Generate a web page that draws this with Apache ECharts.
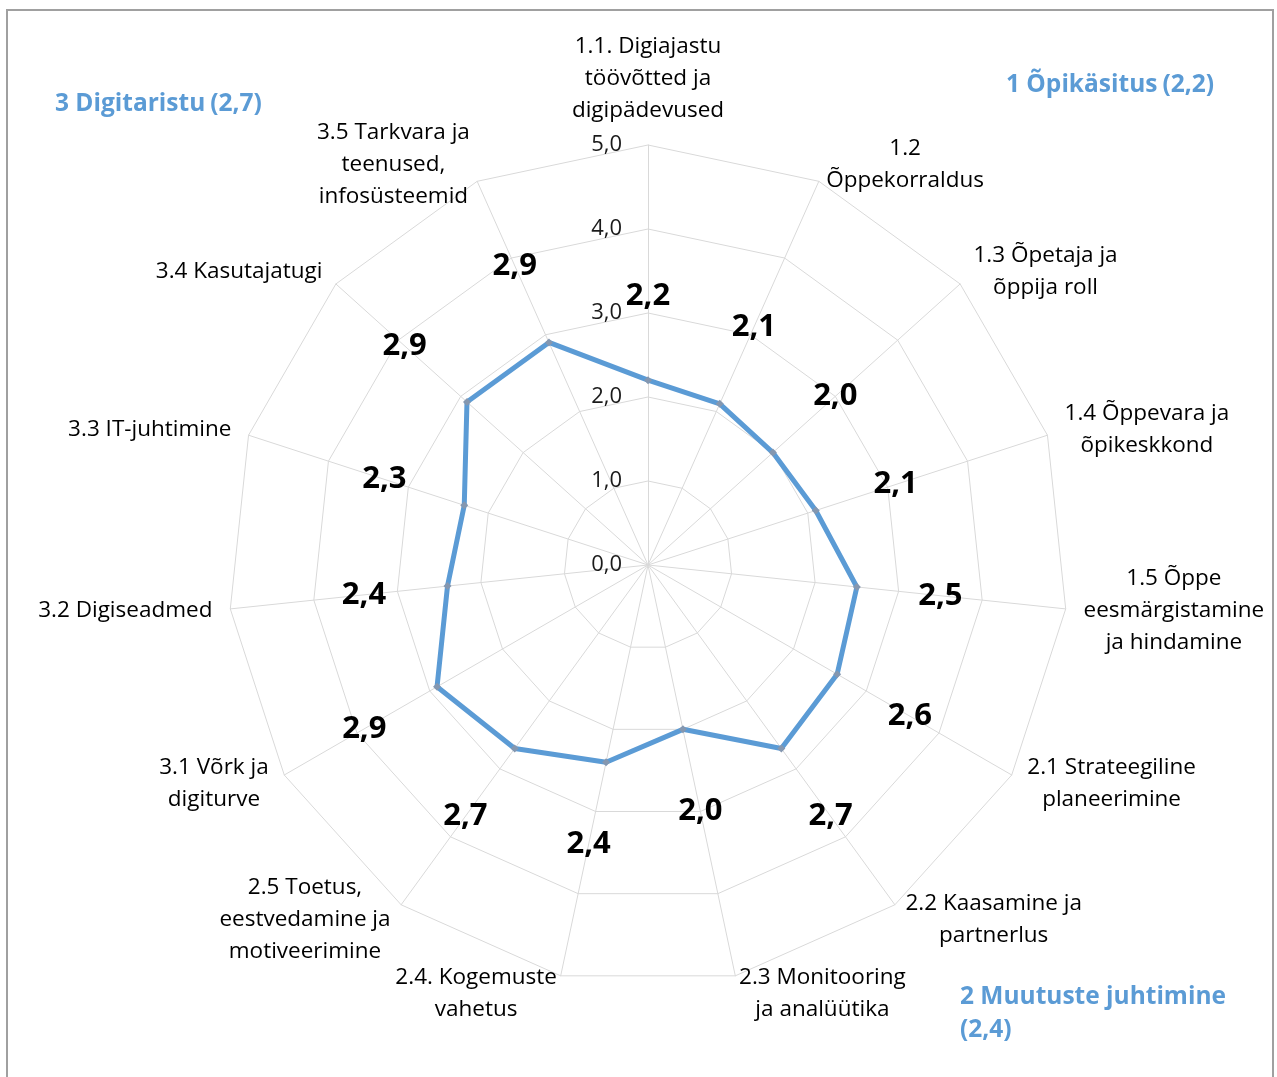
<!DOCTYPE html>
<html>
<head>
<meta charset="utf-8">
<title>Digipeegel</title>
<script src="https://cdn.jsdelivr.net/npm/echarts@6/dist/echarts.min.js"></script>
<style>
  html, body { margin: 0; padding: 0; background: #fff; }
  #chart { width: 1277px; height: 1077px; }
</style>
</head>
<body>
<div id="chart"></div>
<script>
// indicator names, clockwise from the top
const indicators = [
  '1.1. Digiajastu\ntöövõtted ja\ndigipädevused',
  '1.2\nÕppekorraldus',
  '1.3 Õpetaja ja\nõppija roll',
  '1.4 Õppevara ja\nõpikeskkond',
  '1.5 Õppe\neesmärgistamine\nja hindamine',
  '2.1 Strateegiline\nplaneerimine',
  '2.2 Kaasamine ja\npartnerlus',
  '2.3 Monitooring\nja analüütika',
  '2.4. Kogemuste\nvahetus',
  '2.5 Toetus,\neestvedamine ja\nmotiveerimine',
  '3.1 Võrk ja\ndigiturve',
  '3.2 Digiseadmed',
  '3.3 IT-juhtimine',
  '3.4 Kasutajatugi',
  '3.5 Tarkvara ja\nteenused,\ninfosüsteemid'
]
const scores = [2.2, 2.1, 2.0, 2.1, 2.5, 2.6, 2.7, 2.0, 2.4, 2.7, 2.9, 2.4, 2.3, 2.9, 2.9]
const groupNames = ['1 Õpikäsitus', '2 Muutuste juhtimine', '3 Digitaristu']
const groupScores = [2.2, 2.4, 2.7]
const scaleMax = 5
const scaleStep = 1

const FONT = 'Open Sans'
const BLUE = '#5b9bd5'
const CENTER = [648, 565]
const RADIUS = 420

const fmt = v => Number(v).toFixed(1).replace('.', ',')

// echarts radar runs counter-clockwise, so feed it the axes in reverse (first one stays on top)
const order = indicators.map((_, i) => (indicators.length - i) % indicators.length)

const titleRich = {
  b: { fontFamily: FONT, fontSize: 24.5, fontWeight: 'bold', color: BLUE, lineHeight: 33 },
  n: { fontFamily: FONT, fontSize: 24.5, color: BLUE, lineHeight: 33 }
}

const option = {
  animation: false,
  graphic: [{
    type: 'rect',
    silent: true,
    shape: { x: 7, y: 10, width: 1266, height: 1100 },
    style: { fill: 'none', stroke: '#a0a0a0', lineWidth: 2 }
  }],
  title: [
    {
      text: '{b|' + groupNames[2] + '} {n|(' + fmt(groupScores[2]) + ')}',
      left: 55, top: 88, padding: 0,
      textStyle: { rich: titleRich }
    },
    {
      text: '{b|' + groupNames[0] + '} {n|(' + fmt(groupScores[0]) + ')}',
      left: 1006, top: 69, padding: 0,
      textStyle: { rich: titleRich }
    },
    {
      text: '{b|' + groupNames[1] + '}\n{n|(' + fmt(groupScores[1]) + ')}',
      left: 960, top: 981, padding: 0,
      textStyle: { rich: titleRich }
    }
  ],
  radar: {
    center: CENTER,
    radius: RADIUS,
    startAngle: 90,
    splitNumber: scaleMax / scaleStep,
    shape: 'polygon',
    nameGap: 18,
    indicator: order.map(i => ({ name: indicators[i], min: 0, max: scaleMax })),
    axisName: {
      color: '#000',
      fontFamily: FONT,
      fontSize: 22.5,
      lineHeight: 32,
      formatter: name => name.split('\n').map(s => '{c|' + s + '}').join('\n'),
      rich: {
        c: { align: 'center', fontFamily: FONT, fontSize: 22.5, lineHeight: 32, color: '#000' }
      }
    },
    axisLine: { lineStyle: { color: '#d9d9d9', width: 1 } },
    splitLine: { lineStyle: { color: '#d9d9d9', width: 1 } },
    splitArea: { show: false },
    axisTick: { show: false },
    axisLabel: { show: false }
  },
  // only used to print the scale along the top axis
  polar: { center: CENTER, radius: RADIUS },
  angleAxis: { show: false, startAngle: 90, min: 0, max: 360 },
  radiusAxis: {
    min: 0,
    max: scaleMax,
    interval: scaleStep,
    axisLine: { show: false },
    axisTick: { show: false },
    splitLine: { show: false },
    axisLabel: { formatter: fmt, margin: 26, fontFamily: FONT, fontSize: 22, color: '#1a1a1a' }
  },
  series: [{
    type: 'radar',
    symbol: 'diamond',
    symbolSize: 8,
    itemStyle: { color: '#8497b0' },
    lineStyle: { color: BLUE, width: 5 },
    label: {
      show: true,
      formatter: p => fmt(p.value),
      fontFamily: FONT,
      fontSize: 31,
      fontWeight: 'bold',
      color: '#000'
    },
    // push each value label one scale step outwards along its axis
    labelLayout: p => {
      const cx = p.rect.x + p.rect.width / 2
      const cy = p.rect.y + p.rect.height / 2
      const dx = cx - CENTER[0]
      const dy = cy - CENTER[1]
      const d = Math.hypot(dx, dy) || 1
      const shift = RADIUS / scaleMax * scaleStep
      return { x: cx + dx / d * shift, y: cy + dy / d * shift, align: 'center', verticalAlign: 'middle' }
    },
    data: [{ value: order.map(i => scores[i]) }]
  }]
}

const myChart = echarts.init(document.getElementById('chart'))
myChart.setOption(option)
</script>
</body>
</html>
